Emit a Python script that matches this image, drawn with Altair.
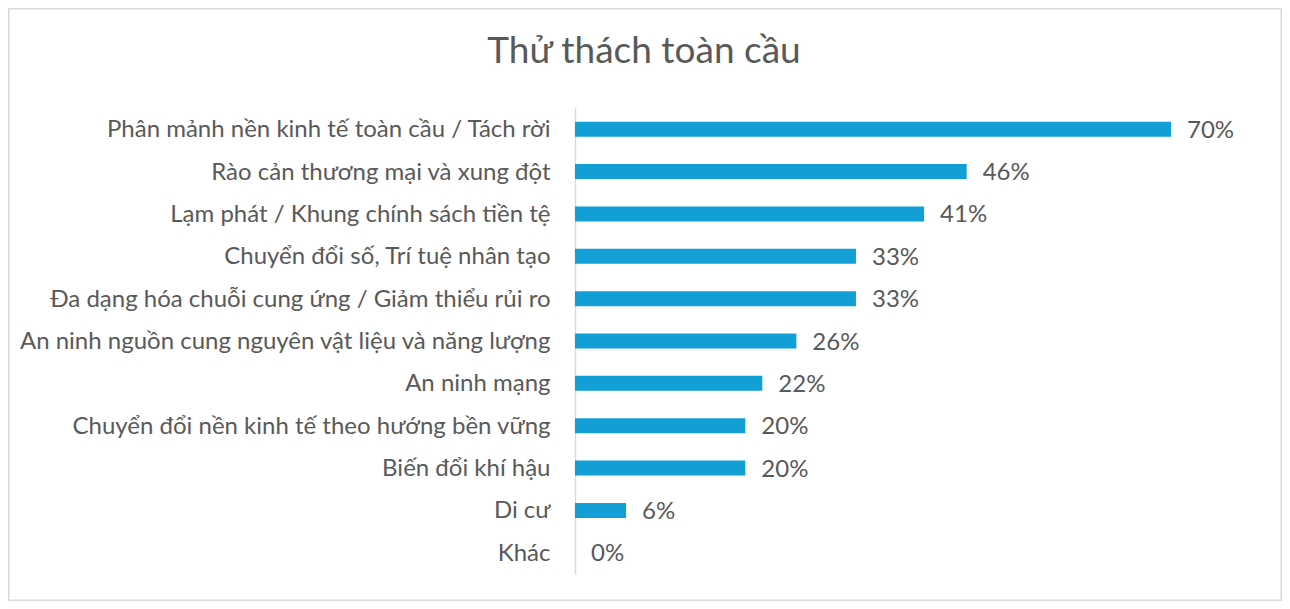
import altair as alt
import pandas as pd

categories = [
    "Phân mảnh nền kinh tế toàn cầu / Tách rời",
    "Rào cản thương mại và xung đột",
    "Lạm phát / Khung chính sách tiền tệ",
    "Chuyển đổi số, Trí tuệ nhân tạo",
    "Đa dạng hóa chuỗi cung ứng / Giảm thiểu rủi ro",
    "An ninh nguồn cung nguyên vật liệu và năng lượng",
    "An ninh mạng",
    "Chuyển đổi nền kinh tế theo hướng bền vững",
    "Biến đổi khí hậu",
    "Di cư",
    "Khác",
]
values = [70, 46, 41, 33, 33, 26, 22, 20, 20, 6, 0]
labels = [f"{v}%" for v in values]
title_text = "Thử thách toàn cầu"

df = pd.DataFrame({"cat": categories, "val": values, "lab": labels})

FONT = "Lato"
TXT = "#595959"
W, H = 596, 466
PL, PT, PR, PB = 567, 100, 111, 27

y_enc = alt.Y(
    "cat:N",
    sort=categories,
    scale=alt.Scale(paddingInner=0, paddingOuter=0),
    axis=alt.Axis(
        title=None, ticks=False, labelPadding=25, labelFontSize=24,
        labelFont=FONT, labelColor=TXT, domainColor="#d9d9d9",
        domainWidth=1.5, labelLimit=600, grid=False, labelOffset=1,
    ),
)
x_enc = alt.X("val:Q", scale=alt.Scale(domain=[0, 70], nice=False), axis=None)

base = alt.Chart(df)
bars = base.mark_bar(size=15, color="#129fd6").encode(x=x_enc, y=y_enc)
text = base.mark_text(align="left", baseline="middle", dx=16, dy=1.5, font=FONT,
                      fontSize=24, color=TXT).encode(x=x_enc, y=y_enc, text="lab:N")

one = alt.Chart(pd.DataFrame({"t": [title_text]}))
title = one.mark_text(align="center", baseline="alphabetic", font=FONT,
                      fontSize=37, color=TXT).encode(
    x=alt.value(69), y=alt.value(-45), text="t:N")
border = one.mark_rect(fill=None, stroke="#d9d9d9", strokeWidth=1.5).encode(
    x=alt.value(-PL + 0.75), x2=alt.value(W + PR - 0.75),
    y=alt.value(-PT + 0.75), y2=alt.value(H + PB - 0.75))

chart = alt.layer(border, bars, text, title).properties(
    width=W, height=H,
    background="white",
    autosize=alt.AutoSizeParams(type="none"),
    padding={"left": PL, "top": PT, "right": PR, "bottom": PB},
).configure_view(strokeOpacity=0, strokeWidth=0)

chart.save("out.html", embed_options={"renderer": "svg", "actions": False})
